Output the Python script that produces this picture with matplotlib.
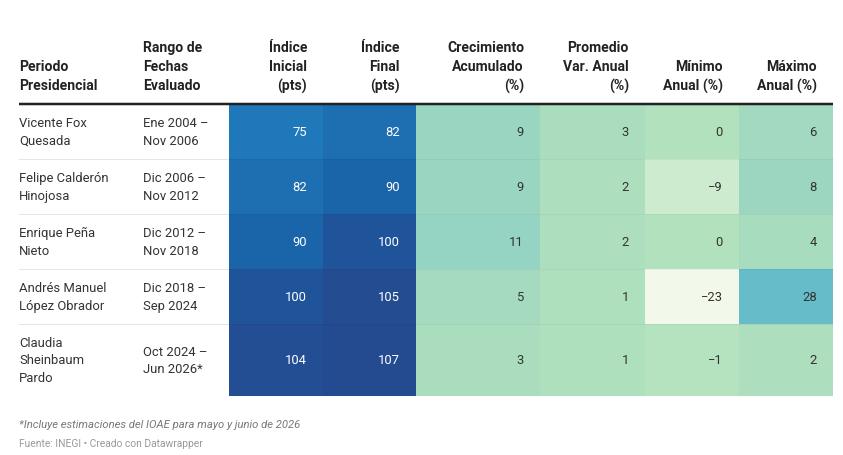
import matplotlib
matplotlib.use("Agg")
import matplotlib.pyplot as plt
from matplotlib.colors import LinearSegmentedColormap, Normalize
from matplotlib.patches import Rectangle

# table data
headers = ["Periodo\nPresidencial", "Rango de\nFechas\nEvaluado", "Índice\nInicial\n(pts)",
           "Índice\nFinal\n(pts)", "Crecimiento\nAcumulado\n(%)", "Promedio\nVar. Anual\n(%)",
           "Mínimo\nAnual (%)", "Máximo\nAnual (%)"]
presidentes = ["Vicente Fox\nQuesada", "Felipe Calderón\nHinojosa", "Enrique Peña\nNieto",
               "Andrés Manuel\nLópez Obrador", "Claudia\nSheinbaum\nPardo"]
rangos = ["Ene 2004 –\nNov 2006", "Dic 2006 –\nNov 2012", "Dic 2012 –\nNov 2018",
          "Dic 2018 –\nSep 2024", "Oct 2024 –\nJun 2026*"]
indice_inicial = [75, 82, 90, 100, 104]
indice_final = [82, 90, 100, 105, 107]
crecimiento = [9, 9, 11, 5, 3]
promedio = [3, 2, 2, 1, 1]
minimo = [0, -9, 0, -23, -1]
maximo = [6, 8, 4, 28, 2]
nota = "*Incluye estimaciones del IOAE para mayo y junio de 2026"
fuente = "Fuente: INEGI • Creado con Datawrapper"

numeric_cols = [indice_inicial, indice_final, crecimiento, promedio, minimo, maximo]

# layout in pixels
W, H = 843, 456
PX = 0.72  # px -> pt at dpi 100
left = 19
text_x = [19, 143]
col_edges = [229, 323, 416, 540, 645, 739, 833]
row_edges = [105, 160, 215, 270, 325, 397]
pad = 16

all_vals = [v for c in numeric_cols for v in c]
vmin, vmax = min(all_vals), max(all_vals)
stops = [(-23, "#f3f9ea"), (0, "#b2e1bd"), (28, "#67bcc9"), (75, "#1f78b9"),
         (90, "#1a64aa"), (107, "#244a8f")]
cmap = LinearSegmentedColormap.from_list(
    "dw", [((v - vmin) / (vmax - vmin), c) for v, c in stops])
norm = Normalize(vmin, vmax)

plt.rcParams["font.family"] = ["Roboto", "DejaVu Sans"]
fig = plt.figure(figsize=(W / 100, H / 100), dpi=100)
ax = fig.add_axes([0, 0, 1, 1])
ax.set_xlim(0, W)
ax.set_ylim(H, 0)
ax.axis("off")

# header
head_bottom = 86
head_step = 19
for j, h in enumerate(headers):
    lines = h.split("\n")
    if j < 2:
        x, ha = text_x[j], "left"
    else:
        x, ha = col_edges[j - 1] - pad, "right"
    for i, ln in enumerate(lines):
        y = head_bottom - head_step * (len(lines) - 1 - i)
        ax.text(x, y, ln, ha=ha, va="center", fontsize=14 * PX,
                fontweight="bold", color="#222222")

ax.plot([left, col_edges[-1]], [104.5, 104.5], color="#222222", lw=2.5 * PX,
        solid_capstyle="butt", zorder=5)

# row separators (faintly visible over the coloured cells too)
for y in row_edges[1:-1]:
    ax.plot([left, col_edges[0]], [y, y], color="#e6e6e6", lw=1 * PX, zorder=1)
    ax.plot([col_edges[0], col_edges[-1]], [y, y], color="black", alpha=0.04,
            lw=1 * PX, zorder=4)

body_step = 17.5


def multiline(x, yc, s, ha, color, size=13):
    lines = s.split("\n")
    n = len(lines)
    for i, ln in enumerate(lines):
        y = yc + (i - (n - 1) / 2) * body_step
        ax.text(x, y, ln, ha=ha, va="center", fontsize=size * PX, color=color)


for r in range(len(presidentes)):
    y0, y1 = row_edges[r], row_edges[r + 1]
    yc = (y0 + y1) / 2
    multiline(text_x[0], yc, presidentes[r], "left", "#333333")
    multiline(text_x[1], yc, rangos[r], "left", "#333333")
    for c, col in enumerate(numeric_cols):
        v = col[r]
        x0, x1 = col_edges[c], col_edges[c + 1]
        ax.add_patch(Rectangle((x0, y0), x1 - x0, y1 - y0,
                               facecolor=cmap(norm(v)), edgecolor="none", zorder=2))
        tc = "white" if v > 50 else "#333333"
        label = str(v).replace("-", "\u2212")
        ax.text(x1 - pad, yc, label, ha="right", va="center",
                fontsize=13 * PX, color=tc, zorder=3)

ax.text(left, 425, nota, ha="left", va="center", fontsize=11.3 * PX,
        style="italic", color="#777777")
ax.text(left, 444, fuente, ha="left", va="center", fontsize=10.3 * PX,
        color="#999999")

fig.savefig("out.png", dpi=100)
